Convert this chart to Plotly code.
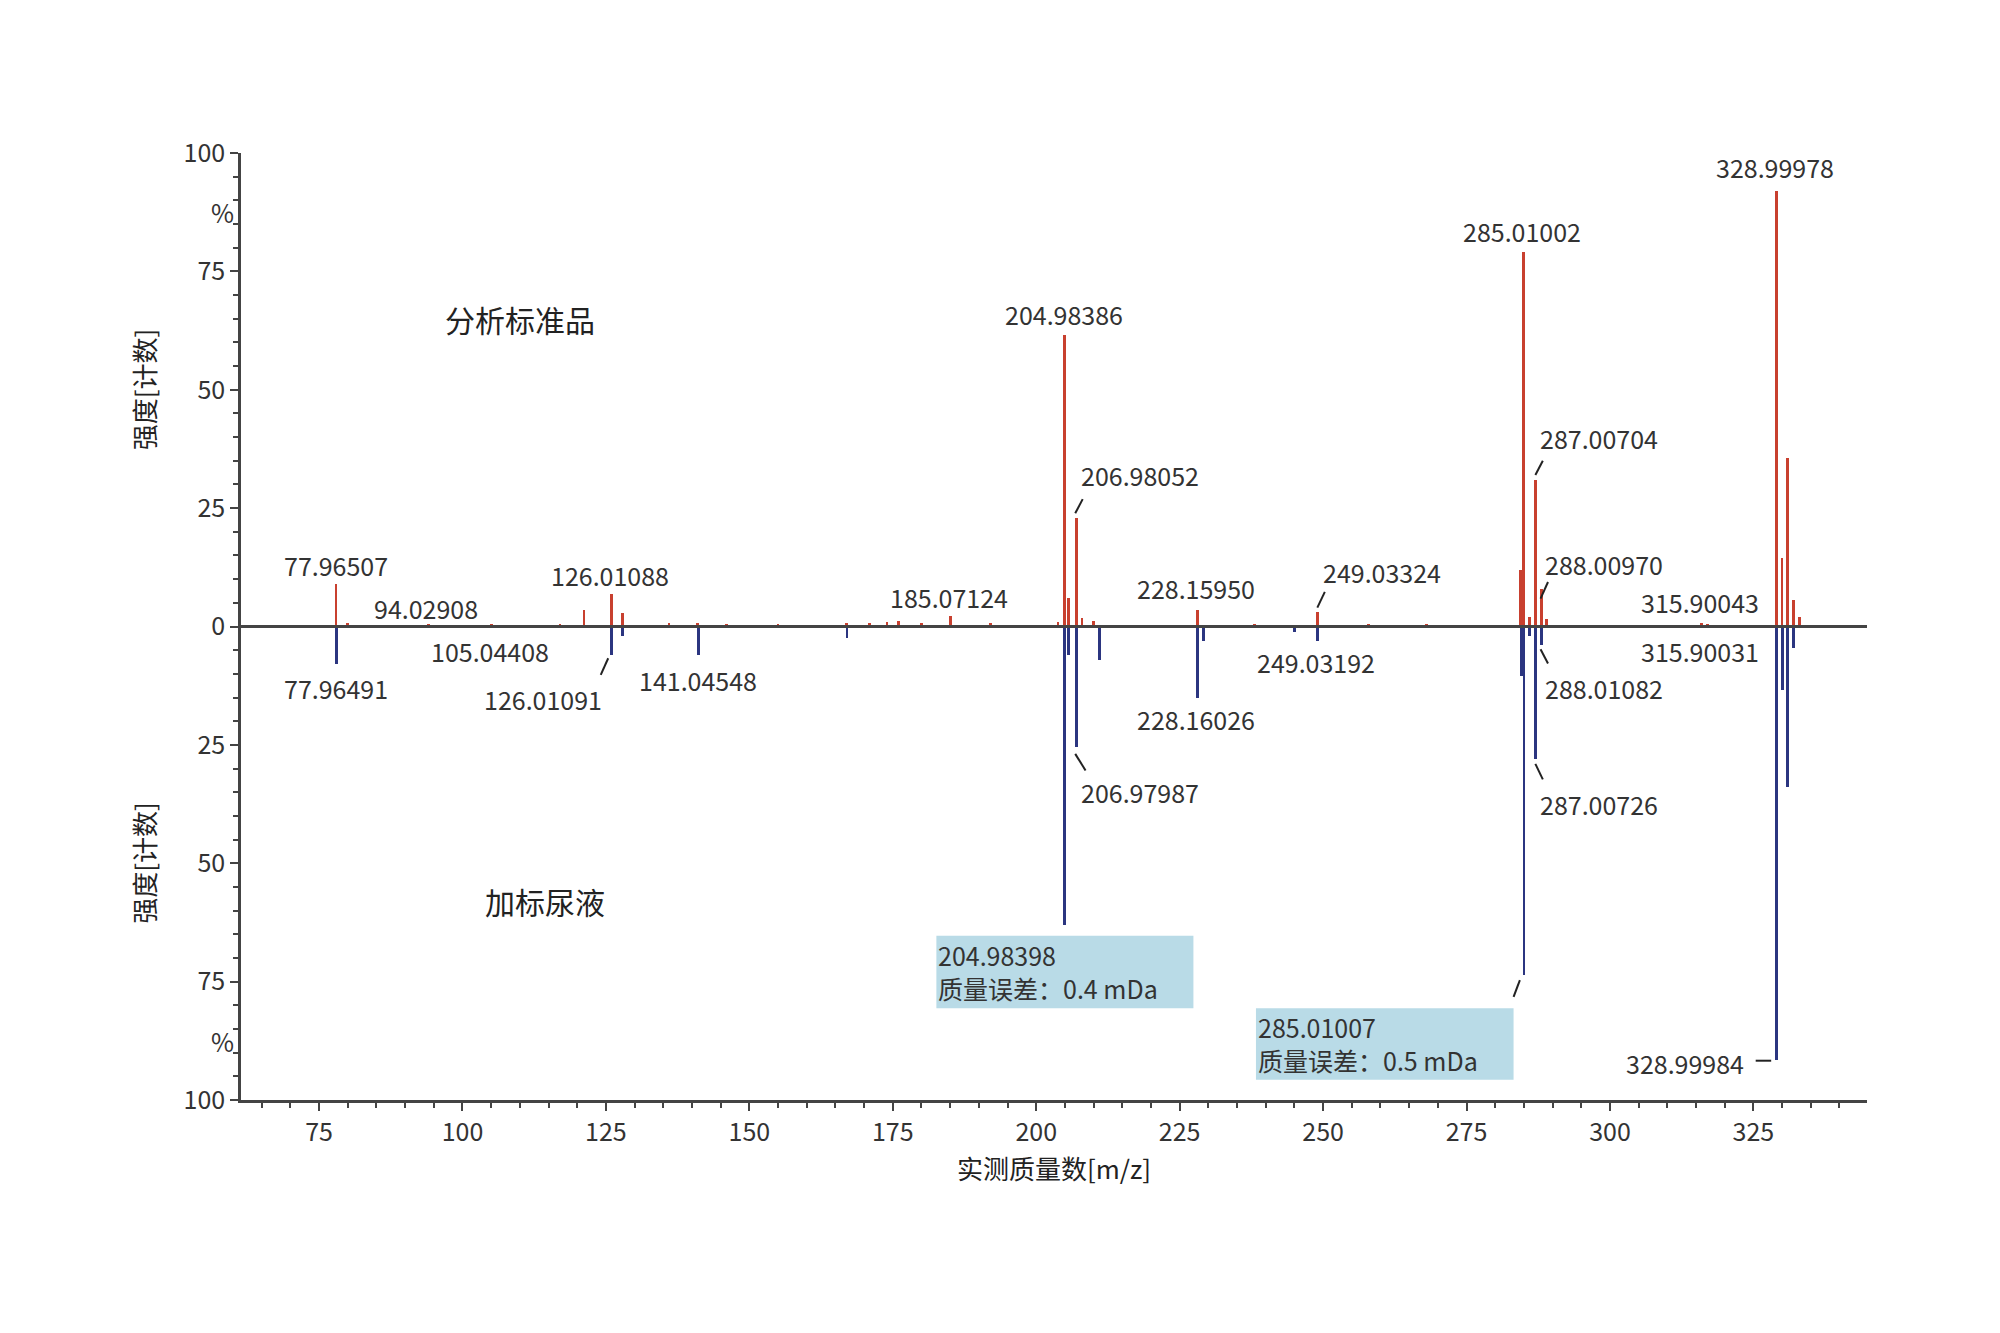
import plotly.graph_objects as go

# 分析标准品 (upper, red) peaks: m/z and relative intensity %
std_mz = [77.965, 80.0, 94.03, 105.04, 117.0, 121.2, 126.01, 127.9, 136.0, 141.0, 146.0, 155.0, 167.0, 171.0, 174.0,
          176.0, 180.0, 185.07, 192.0, 203.8, 204.98, 205.6, 206.98, 208.0, 210.0, 228.16, 238.0, 249.03,
          258.0, 268.0, 284.4, 285.01, 286.0, 287.007, 288.01, 289.0, 315.9, 317.0, 328.99978, 330.0,
          331.0, 332.0, 333.0]
std_int = [9.0, 0.8, 0.5, 0.5, 0.5, 3.5, 6.8, 2.8, 0.8, 0.8, 0.5, 0.5, 0.8, 0.8, 1.0,
           1.2, 0.8, 2.2, 0.8, 1.0, 61.5, 6.0, 23.0, 1.8, 1.2, 3.5, 0.5, 3.0,
           0.6, 0.6, 12.0, 79.0, 2.0, 31.0, 8.0, 1.5, 0.8, 0.6, 92.0, 14.5,
           35.5, 5.5, 2.0]

# 加标尿液 (lower, blue) peaks
uri_mz = [77.965, 126.01, 127.9, 141.05, 167.0, 204.98, 205.6, 206.98, 211.0, 228.16, 229.2, 245.0,
          249.03, 284.5, 285.01, 286.0, 287.007, 288.01, 328.99984, 330.0, 331.0, 332.0]
uri_int = [8.0, 6.0, 2.0, 6.0, 2.5, 63.0, 6.0, 25.5, 7.0, 15.0, 3.0, 1.2,
           3.0, 10.5, 73.5, 2.0, 28.0, 4.0, 91.5, 13.5, 34.0, 4.5]

# peak labels: text, x, y (data coords)
labels = [("77.96507", 77.9, 12.9), ("94.02908", 93.7, 4.0), ("105.04408", 104.8, -5.1),
          ("126.01088", 125.7, 10.8), ("185.07124", 184.8, 6.2), ("204.98386", 204.8, 65.9),
          ("206.98052", 218.1, 32.0), ("228.15950", 227.9, 8.1), ("249.03324", 260.3, 11.6),
          ("285.01002", 284.6, 83.6), ("287.00704", 298.1, 39.8), ("288.00970", 299.0, 13.2),
          ("315.90043", 315.7, 5.1), ("328.99978", 328.8, 97.0),
          ("77.96491", 77.9, -12.9), ("126.01091", 114.1, -15.3), ("141.04548", 141.0, -11.3),
          ("206.97987", 218.1, -34.9), ("228.16026", 227.9, -19.6), ("249.03192", 248.8, -7.5),
          ("288.01082", 299.0, -12.9), ("315.90031", 315.7, -5.1), ("287.00726", 298.1, -37.4),
          ("328.99984", 313.0, -92.2)]

# leader lines: x0, y0, x1, y1
leaders = [(206.8, 23.9, 208.1, 26.9), (125.4, -6.7, 124.1, -10.2), (206.8, -26.9, 208.6, -30.4),
           (249.0, 4.0, 250.3, 7.3), (287.0, 32.0, 288.3, 35.0), (287.9, 5.9, 289.2, 9.4),
           (287.9, -4.8, 289.2, -7.8), (287.0, -29.0, 288.3, -32.3), (283.2, -78.2, 284.3, -74.7),
           (325.4, -91.7, 328.1, -91.7)]

# highlighted boxes: x0, x1, y0, y1, text
boxes = [(182.6, 227.4, -80.6, -65.3, "204.98398<br>质量误差：0.4 mDa"),
         (238.3, 283.2, -95.7, -80.6, "285.01007<br>质量误差：0.5 mDa")]

font = "Noto Sans CJK SC, Noto Sans, sans-serif"
red = "#c8402f"
blue = "#2b3580"

fig = go.Figure()
fig.add_trace(go.Bar(x=std_mz, y=std_int, width=0.5, marker=dict(color=red, line=dict(width=0)),
                     showlegend=False))
fig.add_trace(go.Bar(x=uri_mz, y=[-v for v in uri_int], width=0.5,
                     marker=dict(color=blue, line=dict(width=0)), showlegend=False))

for x0, x1, y0, y1, txt in boxes:
    fig.add_shape(type="rect", x0=x0, x1=x1, y0=y0, y1=y1, fillcolor="#b9dbe7",
                  line=dict(width=0), layer="below")
    fig.add_annotation(x=x0, y=(y0 + y1) / 2, text=txt, showarrow=False, xanchor="left",
                       align="left", font=dict(size=25, color="#333"))

for x0, y0, x1, y1 in leaders:
    fig.add_shape(type="line", x0=x0, y0=y0, x1=x1, y1=y1, line=dict(color="#222", width=2))

for txt, x, y in labels:
    fig.add_annotation(x=x, y=y, text=txt, showarrow=False, font=dict(size=25, color="#333"))

fig.add_annotation(x=110.1, y=65, text="分析标准品", showarrow=False, font=dict(size=30, color="#222"))
fig.add_annotation(x=114.3, y=-58, text="加标尿液", showarrow=False, font=dict(size=30, color="#222"))
for yy in [87.5, -87.5]:
    fig.add_annotation(x=0, xref="paper", xshift=-32, y=yy, text="%", showarrow=False,
                       font=dict(size=25, color="#333"))
for yy in [50, -50]:
    fig.add_annotation(x=0, xref="paper", xshift=-118, y=yy, text="强度[计数]", textangle=-90,
                       showarrow=False, font=dict(size=26, color="#222"))

fig.add_shape(type="line", xref="paper", x0=0, x1=1, y0=0, y1=0, line=dict(color="#444", width=3))

fig.update_layout(
    width=2000, height=1333, plot_bgcolor="white", paper_bgcolor="white",
    margin=dict(l=233, r=141, t=145, b=241), bargap=0,
    font=dict(family=font, size=25, color="#333"),
    xaxis=dict(range=[61.4, 344.8], showline=True, linecolor="#444", linewidth=2.5,
               ticks="outside", ticklen=8, tickcolor="#444", tickwidth=2, dtick=25, tick0=0,
               showgrid=False, zeroline=False,
               minor=dict(ticks="outside", ticklen=5, dtick=5, tickcolor="#444"),
               title=dict(text="实测质量数[m/z]", font=dict(size=26, color="#222"), standoff=15)),
    yaxis=dict(range=[-100, 100], showline=True, linecolor="#444", linewidth=2.5,
               ticks="outside", ticklen=8, tickcolor="#444", tickwidth=2,
               tickvals=[100, 75, 50, 25, 0, -25, -50, -75, -100],
               ticktext=["100", "75", "50", "25", "0", "25", "50", "75", "100"],
               showgrid=False, zeroline=False,
               minor=dict(ticks="outside", ticklen=5, dtick=5, tickcolor="#444")),
)

fig.write_html("out.html")
